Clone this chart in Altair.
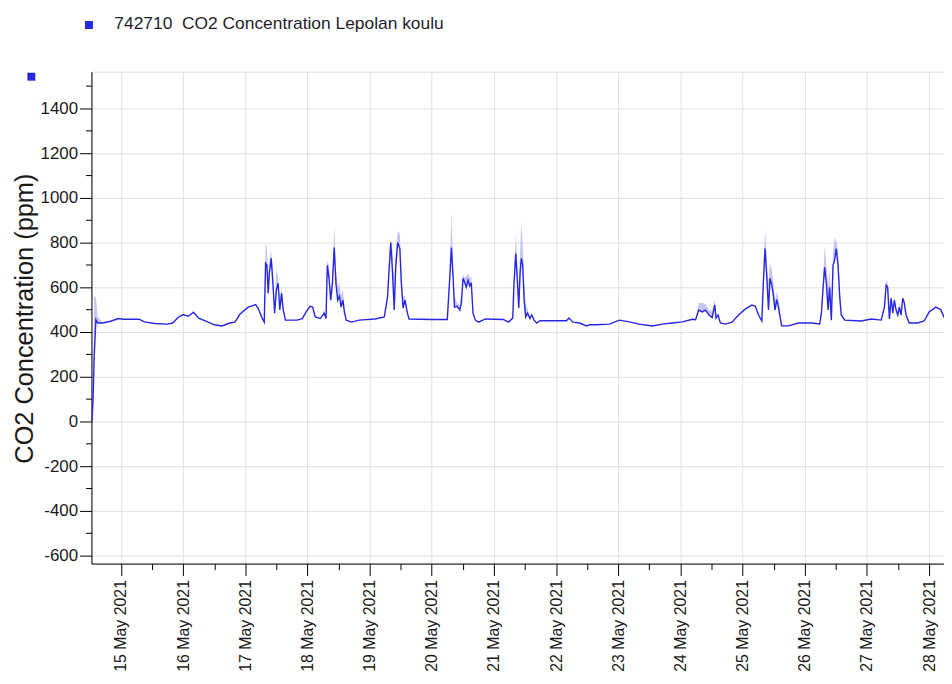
import altair as alt
import pandas as pd

series_name = "742710\u00a0 CO2 Concentration Lepolan koulu"
line_blue = "#2626e4"
band_blue = "#c6c6f6"
font = "Liberation Sans"

times = [
    # 14 May
    "2021-05-14 12:50", "2021-05-14 13:15", "2021-05-14 13:40", "2021-05-14 14:20", "2021-05-14 15:00",
    "2021-05-14 17:00", "2021-05-14 20:00", "2021-05-14 23:00",
    # 15 May
    "2021-05-15 01:00", "2021-05-15 07:00", "2021-05-15 09:00", "2021-05-15 13:00", "2021-05-15 18:00",
    "2021-05-15 20:00", "2021-05-15 22:00",
    # 16 May
    "2021-05-16 00:00", "2021-05-16 02:00", "2021-05-16 04:00", "2021-05-16 06:00", "2021-05-16 09:00",
    "2021-05-16 12:00", "2021-05-16 15:00", "2021-05-16 18:00", "2021-05-16 20:00", "2021-05-16 22:00",
    # 17 May
    "2021-05-17 01:00", "2021-05-17 04:00", "2021-05-17 05:00", "2021-05-17 06:30", "2021-05-17 07:20",
    "2021-05-17 07:50", "2021-05-17 08:20", "2021-05-17 08:50", "2021-05-17 09:20", "2021-05-17 10:00",
    "2021-05-17 10:40", "2021-05-17 11:20", "2021-05-17 12:00", "2021-05-17 12:40", "2021-05-17 13:20",
    "2021-05-17 14:00", "2021-05-17 14:40", "2021-05-17 15:30", "2021-05-17 20:00", "2021-05-17 22:00",
    "2021-05-17 23:30",
    # 18 May
    "2021-05-18 01:00", "2021-05-18 02:00", "2021-05-18 03:00", "2021-05-18 05:00", "2021-05-18 06:30",
    "2021-05-18 07:10", "2021-05-18 07:40", "2021-05-18 08:20", "2021-05-18 09:00", "2021-05-18 09:40",
    "2021-05-18 10:20", "2021-05-18 11:00", "2021-05-18 11:40", "2021-05-18 12:20", "2021-05-18 13:00",
    "2021-05-18 13:40", "2021-05-18 14:20", "2021-05-18 15:00", "2021-05-18 17:00", "2021-05-18 20:00",
    # 19 May
    "2021-05-19 02:00", "2021-05-19 05:40", "2021-05-19 06:55", "2021-05-19 07:35", "2021-05-19 08:10",
    "2021-05-19 08:50", "2021-05-19 09:30", "2021-05-19 10:05", "2021-05-19 10:50", "2021-05-19 11:40",
    "2021-05-19 12:15", "2021-05-19 12:55", "2021-05-19 13:40", "2021-05-19 14:35", "2021-05-19 15:15",
    # 20 May
    "2021-05-20 00:00", "2021-05-20 06:00", "2021-05-20 06:15", "2021-05-20 07:00", "2021-05-20 07:35",
    "2021-05-20 08:15", "2021-05-20 08:45", "2021-05-20 09:45", "2021-05-20 10:50", "2021-05-20 11:25",
    "2021-05-20 12:05", "2021-05-20 12:45", "2021-05-20 13:20", "2021-05-20 14:00", "2021-05-20 14:40",
    "2021-05-20 15:15", "2021-05-20 15:55", "2021-05-20 16:50", "2021-05-20 18:05", "2021-05-20 20:40",
    # 21 May
    "2021-05-21 03:40", "2021-05-21 05:35", "2021-05-21 07:15", "2021-05-21 07:45", "2021-05-21 08:25",
    "2021-05-21 09:05", "2021-05-21 09:35", "2021-05-21 10:05", "2021-05-21 10:35", "2021-05-21 11:05",
    "2021-05-21 11:40", "2021-05-21 12:15", "2021-05-21 13:00", "2021-05-21 13:55", "2021-05-21 14:35",
    "2021-05-21 15:30", "2021-05-21 16:30", "2021-05-21 17:45",
    # 22 May
    "2021-05-22 04:00", "2021-05-22 05:00", "2021-05-22 06:30", "2021-05-22 09:05", "2021-05-22 11:40",
    "2021-05-22 13:00", "2021-05-22 15:30", "2021-05-22 20:35",
    # 23 May
    "2021-05-23 00:25", "2021-05-23 04:15", "2021-05-23 08:05", "2021-05-23 13:10", "2021-05-23 17:00",
    "2021-05-23 20:50",
    # 24 May
    "2021-05-24 00:45", "2021-05-24 04:35", "2021-05-24 05:50", "2021-05-24 07:05", "2021-05-24 08:25",
    "2021-05-24 09:40", "2021-05-24 11:00", "2021-05-24 12:15", "2021-05-24 13:15", "2021-05-24 13:45",
    "2021-05-24 14:30", "2021-05-24 15:25", "2021-05-24 17:20", "2021-05-24 19:55", "2021-05-24 22:25",
    # 25 May
    "2021-05-25 01:00", "2021-05-25 03:35", "2021-05-25 04:55", "2021-05-25 06:10", "2021-05-25 07:25",
    "2021-05-25 08:00", "2021-05-25 08:40", "2021-05-25 09:20", "2021-05-25 10:00", "2021-05-25 10:35",
    "2021-05-25 11:15", "2021-05-25 11:55", "2021-05-25 12:30", "2021-05-25 13:10", "2021-05-25 13:50",
    "2021-05-25 14:25", "2021-05-25 15:05", "2021-05-25 17:40", "2021-05-25 21:30",
    # 26 May
    "2021-05-26 02:35", "2021-05-26 05:45", "2021-05-26 06:25", "2021-05-26 07:05", "2021-05-26 07:40",
    "2021-05-26 08:20", "2021-05-26 09:00", "2021-05-26 09:35", "2021-05-26 10:15", "2021-05-26 10:55",
    "2021-05-26 11:30", "2021-05-26 12:10", "2021-05-26 12:50", "2021-05-26 13:30", "2021-05-26 14:05",
    "2021-05-26 15:25", "2021-05-26 21:45",
    # 27 May
    "2021-05-27 01:40", "2021-05-27 05:30", "2021-05-27 06:45", "2021-05-27 07:25", "2021-05-27 08:00",
    "2021-05-27 08:40", "2021-05-27 09:20", "2021-05-27 10:00", "2021-05-27 10:35", "2021-05-27 11:15",
    "2021-05-27 11:55", "2021-05-27 12:30", "2021-05-27 13:10", "2021-05-27 13:50", "2021-05-27 14:25",
    "2021-05-27 15:05", "2021-05-27 16:20", "2021-05-27 19:35", "2021-05-27 22:05",
    # 28 May
    "2021-05-28 00:00", "2021-05-28 02:35", "2021-05-28 04:30", "2021-05-28 05:45", "2021-05-28 07:00",
]

# mean CO2 (ppm)
co2_mean = [
    0, 105, 290, 455, 440, 440, 448, 460,
    457, 457, 445, 438, 435, 440, 465,
    478, 470, 488, 462, 447, 432, 427, 440, 444, 480,
    510, 522, 505, 462, 444, 707, 698, 573, 667, 729, 618, 484, 587, 618, 498, 573, 498, 453, 453, 460, 490,
    515, 511, 467, 460, 484, 460, 698, 640, 542, 622, 778, 618, 542, 560, 511, 542, 484, 453, 444, 453,
    458, 467, 556, 689, 800, 667, 498, 689, 800, 773, 618, 507, 542, 484, 458,
    456, 456, 507, 653, 778, 640, 511, 515, 498, 530, 640, 620, 600, 631, 605, 620, 484, 453, 444, 458,
    456, 444, 462, 618, 751, 618, 507, 662, 729, 698, 542, 467, 484, 460, 476, 453, 440, 450,
    450, 462, 444, 440, 427, 433, 432, 435,
    453, 445, 435, 427, 435, 440,
    445, 457, 455, 498, 490, 498, 476, 465, 520, 462, 476, 440, 435, 444, 476,
    502, 520, 515, 476, 449, 618, 773, 644, 498, 640, 610, 560, 498, 545, 510, 470, 427, 427, 440,
    440, 436, 484, 600, 689, 618, 498, 600, 453, 698, 720, 773, 700, 556, 476, 453, 449,
    458, 453, 511, 609, 600, 458, 551, 484, 542, 498, 476, 511, 476, 551, 530, 476, 440, 440, 449,
    489, 511, 500, 467, 455,
]

# upper edge of the min/max envelope (None = no envelope above the mean)
co2_max = [
    None, None, 560, 555, 470, None, None, None,
    None, None, None, None, None, None, None,
    None, None, None, None, None, None, None, None, None, None,
    None, None, None, None, None, 795, 780, 640, 720, 764, 680, 520, 676, 650, 530, 600, 510, None, None, None, None,
    None, None, None, None, 500, None, 720, 700, 560, 660, 876, 680, 600, 620, 560, 590, 510, None, None, None,
    None, None, 580, 740, 820, 760, 620, 760, 853, 840, 680, 560, 560, None, None,
    None, None, None, 700, 933, 700, 560, 530, 520, 560, 660, 640, 650, 662, 640, 650, None, None, None, None,
    None, None, None, 640, 840, 700, 600, 760, 889, 800, 620, 530, 500, None, None, None, None, None,
    None, None, None, None, None, None, None, None,
    None, None, None, None, None, None,
    None, None, None, 529, 530, 525, 500, 490, 547, None, None, None, None, None, None,
    None, None, None, None, None, 650, 862, 720, 620, 707, 680, 620, 540, 580, 550, 500, None, None, None,
    None, None, None, 640, 787, 700, 600, 680, 520, 760, 818, 810, 760, 600, None, None, None,
    None, None, None, 630, 620, None, 570, None, 560, None, None, 530, None, 560, None, None, None, None, None,
    None, None, None, None, None,
]

y_ticks = list(range(-600, 1501, 100))
x_tick_days = list(range(15, 29))

df = pd.DataFrame({
    "time": times,
    "co2": co2_mean,
    "hi": [m if h is None else max(m, h) for m, h in zip(co2_mean, co2_max)],
})

x_values = [alt.DateTime(year=2021, month=5, date=d, hours=h)
            for d in x_tick_days for h in (0, 12) if not (d == 28 and h == 12)]

x_scale = alt.Scale(domain=[alt.DateTime(year=2021, month=5, date=14, hours=12, minutes=37),
                            alt.DateTime(year=2021, month=5, date=28, hours=5, minutes=45)],
                    nice=False)
y_scale = alt.Scale(domain=[-636, 1564], nice=False, zero=False)

x_axis = alt.Axis(
    values=x_values,
    labelExpr="hours(datum.value) == 0 ? timeFormat(datum.value, '%d %b %Y') : ''",
    labelAngle=270, labelFont=font, labelFontSize=16, labelColor="#1a1a1a",
    labelPadding=4, labelOverlap=False, labelFlush=False,
    tickSize={"condition": {"test": "hours(datum.value) == 0", "value": 12}, "value": 6},
    tickColor="#000000", tickWidth=1, domainColor="#000000", domainWidth=1,
    grid=True, gridColor="#e0e0e0", gridWidth=1,
    gridOpacity={"condition": {"test": "hours(datum.value) == 0", "value": 1}, "value": 0},
    title=None,
)
y_axis = alt.Axis(
    values=y_ticks,
    labelExpr="datum.value % 200 == 0 ? '' + datum.value : ''",
    labelFont=font, labelFontSize=17, labelColor="#1a1a1a", labelPadding=2, labelOverlap=False,
    tickSize={"condition": {"test": "datum.value % 200 == 0", "value": 12}, "value": 6},
    tickColor="#000000", tickWidth=1, domainColor="#000000", domainWidth=1,
    grid=True, gridColor="#e0e0e0", gridWidth=1,
    gridOpacity={"condition": {"test": "datum.value % 200 == 0", "value": 1}, "value": 0},
    title="CO2 Concentration (ppm)", titleFont=font, titleFontSize=25.5, titleFontWeight="normal",
    titleColor="#1a1a1a", titleX=-67, titleY=248, titleAlign="center", titleBaseline="middle",
)

band = alt.Chart(df).mark_area(color=band_blue, opacity=1, clip=True).encode(
    x=alt.X("time:T", scale=x_scale, axis=x_axis),
    y=alt.Y("co2:Q", scale=y_scale, axis=y_axis),
    y2="hi:Q",
)
line = alt.Chart(df).mark_line(color=line_blue, strokeWidth=1.4, clip=True).encode(
    x=alt.X("time:T", scale=x_scale, axis=x_axis),
    y=alt.Y("co2:Q", scale=y_scale, axis=y_axis),
)

legend_df = pd.DataFrame({"label": [series_name]})
leg_sq = alt.Chart(legend_df).mark_square(size=64, color=line_blue, opacity=1, filled=True).encode(
    x=alt.value(-2.5), y=alt.value(-47))
leg_txt = alt.Chart(legend_df).mark_text(align="left", baseline="alphabetic", font=font,
                                          fontSize=17.5, color="#1e1e2a").encode(
    x=alt.value(23), y=alt.value(-43.5), text="label:N")
corner_sq = alt.Chart(legend_df).mark_square(size=64, color=line_blue, opacity=1, filled=True).encode(
    x=alt.value(-60.5), y=alt.value(5))

chart = alt.layer(band, line, leg_sq, leg_txt, corner_sq).properties(
    width=858, height=495,
    autosize=alt.AutoSizeParams(type="none"),
    padding={"left": 84, "top": 62, "right": 0, "bottom": 110},
).configure_view(stroke=None).configure(font=font)

chart.save("out.html", embed_options={"renderer": "svg", "actions": False})
